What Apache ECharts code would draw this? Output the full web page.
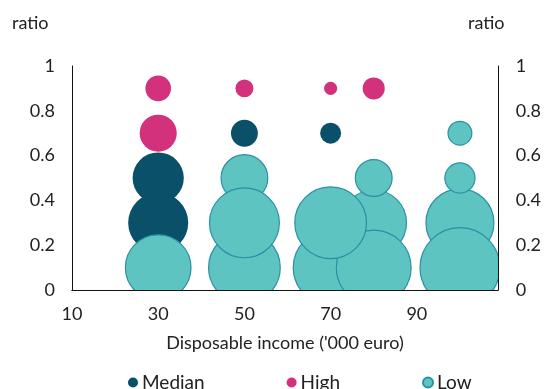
<!DOCTYPE html>
<html>
<head>
<meta charset="utf-8">
<script src="https://cdn.jsdelivr.net/npm/echarts@6/dist/echarts.min.js"></script>
<style>
html,body{margin:0;padding:0;background:#fff;}
#chart{width:544px;height:389px;}
</style>
</head>
<body>
<div id="chart"></div>
<script>
// [disposable income ('000 euro), ratio, bubble size]
const seriesNames = ['Median', 'High', 'Low'];
const medianData = [[30, 0.5, 40], [30, 0.3, 55], [50, 0.7, 11], [70, 0.7, 6.7]];
const highData = [[30, 0.9, 10], [30, 0.7, 21], [50, 0.9, 4.9], [70, 0.9, 2.6], [80, 0.9, 7.4]];
const lowData = [[70, 0.1, 88], [100, 0.3, 73], [80, 0.3, 68], [80, 0.1, 88], [100, 0.1, 100],
                 [30, 0.1, 68], [50, 0.1, 81], [50, 0.5, 35], [50, 0.3, 77], [70, 0.3, 81],
                 [80, 0.5, 22], [100, 0.5, 15], [100, 0.7, 9.5]];
const xTicks = [10, 30, 50, 70, 90];
const yTicks = [0, 0.2, 0.4, 0.6, 0.8, 1];

const FONT = 'Lato';
const FS = 18;
const TXT = '#222';
const MAX_D = 81; // diameter (px) of the largest bubble (size 100)

function bubble(stroke, lw) {
  return function (params, api) {
    const c = api.coord([api.value(0), api.value(1)]);
    const d = MAX_D * Math.sqrt(api.value(2) / 100);
    return {
      type: 'circle',
      shape: { cx: c[0], cy: c[1], r: Math.max(d / 2 - lw / 2, 0.5) },
      style: { fill: api.visual('color'), stroke: stroke, lineWidth: lw }
    };
  };
}

const chart = echarts.init(document.getElementById('chart'), null, { renderer: 'canvas' });
const axisLineStyle = { show: true, lineStyle: { color: '#111', width: 1 } };
chart.setOption({
  animation: false,
  textStyle: { fontFamily: FONT, color: TXT },
  grid: { left: 72, right: 46, top: 66, bottom: 99 },
  graphic: [
    { type: 'text', left: 12, top: 14, style: { text: 'ratio', font: FS + 'px ' + FONT, fill: TXT } },
    { type: 'text', left: 468, top: 14, style: { text: 'ratio', font: FS + 'px ' + FONT, fill: TXT } }
  ],
  legend: {
    data: seriesNames,
    left: 123, top: 368,
    icon: 'circle', itemWidth: 10, itemHeight: 10, itemGap: 82,
    textStyle: { fontFamily: FONT, fontSize: 19, color: TXT, padding: [0, 0, 0, -1] }
  },
  xAxis: [{
    type: 'value', min: xTicks[0], max: 108.8, interval: xTicks[1] - xTicks[0],
    z: 5,
    axisLine: axisLineStyle, axisTick: { show: false }, splitLine: { show: false },
    axisLabel: { showMaxLabel: false, margin: 15, fontSize: FS, color: TXT, fontFamily: FONT },
    name: "Disposable income ('000 euro)", nameLocation: 'middle', nameGap: 44,
    nameTextStyle: { fontSize: FS, color: TXT, fontFamily: FONT }
  }, {
    type: 'value', position: 'top', min: xTicks[0], max: 108.8, z: 5,
    axisLine: axisLineStyle, axisTick: { show: false }, splitLine: { show: false },
    axisLabel: { show: false }
  }],
  yAxis: [0, 1].map(function (i) {
    return {
      type: 'value', position: i === 0 ? 'left' : 'right',
      min: yTicks[0], max: yTicks[yTicks.length - 1], interval: yTicks[1] - yTicks[0],
      z: 5,
      axisLine: axisLineStyle, axisTick: { show: false }, splitLine: { show: false },
      axisLabel: { margin: i === 0 ? 17 : 18, fontSize: FS, color: TXT, fontFamily: FONT }
    };
  }),
  series: [
    { name: 'Median', type: 'custom', clip: true, data: medianData,
      itemStyle: { color: '#0b5069' }, renderItem: bubble('#0b5069', 0) },
    { name: 'High', type: 'custom', clip: true, data: highData,
      itemStyle: { color: '#d3317b' }, renderItem: bubble('#d3317b', 0) },
    { name: 'Low', type: 'custom', clip: true, data: lowData,
      itemStyle: { color: '#5ec4c1', borderColor: '#2a90a6', borderWidth: 1 },
      renderItem: bubble('#2a90a6', 1.2) }
  ]
});
</script>
</body>
</html>
